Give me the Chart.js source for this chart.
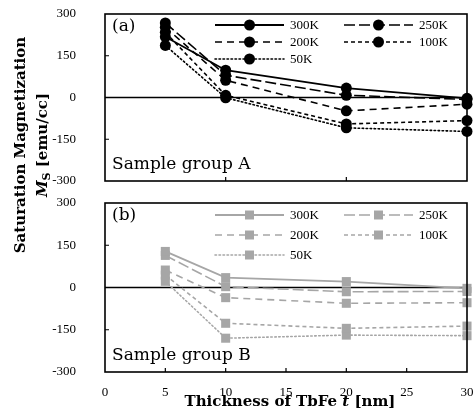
<!DOCTYPE html>
<html>
<head>
<meta charset="utf-8">
<script src="https://cdn.jsdelivr.net/npm/chart.js@4.4.1/dist/chart.umd.min.js"></script>
<style>
  html, body { margin: 0; padding: 0; background: #fff; }
  #wrap { position: relative; width: 476px; height: 418px; overflow: hidden; font-family: 'DejaVu Serif', serif; }
  #boxA { position: absolute; left: 0; top: 0; width: 476px; height: 192px; }
  #boxB { position: absolute; left: 0; top: 192px; width: 476px; height: 226px; }
  #yTitle {
    position: absolute; left: -119px; top: 123px; width: 300px; height: 44px;
    transform: rotate(-90deg); transform-origin: 50% 50%;
    text-align: center; line-height: 22px; font-weight: bold; font-size: 15px; color: #000;
    white-space: nowrap;
  }
  #yTitle sub { font-size: 11px; vertical-align: -3px; line-height: 0; font-style: normal; }
  #xTitle {
    position: absolute; left: 90px; top: 392px; width: 400px; text-align: center;
    font-weight: bold; font-size: 15px; line-height: 18px; color: #000; white-space: nowrap;
  }
</style>
</head>
<body>
<div id="wrap">
  <div id="boxA"><canvas id="chartA"></canvas></div>
  <div id="boxB"><canvas id="chartB"></canvas></div>
  <div id="yTitle">Saturation Magnetization<br><i>M</i><sub>S</sub> [emu/cc]</div>
  <div id="xTitle">Thickness of TbFe <i>t</i> [nm]</div>
</div>
<script>
// thickness values (nm)
const thickness = [5, 10, 20, 30];
const tempLabels = ['300K', '250K', '200K', '100K', '50K'];
const yTicks = [-300, -150, 0, 150, 300];

// sample group A, emu/cc
const groupA300K = [218, 98, 34, -3];
const groupA250K = [268, 80, 8, -7];
const groupA200K = [252, 62, -48, -24];
const groupA100K = [234, 8, -95, -83];
const groupA50K = [187, -1, -109, -122];

// sample group B, emu/cc
const groupB300K = [128, 35, 21, -3];
const groupB250K = [114, 3, -15, -14];
const groupB200K = [62, -36, -56, -54];
const groupB100K = [44, -127, -145, -137];
const groupB50K = [22, -180, -169, -171];

// line dash per temperature
const dashes = [[], [11, 4], [7, 5], [4, 3], [1.5, 2.5]];

// where each legend entry goes: [column, row]
const legendSlots = [[0, 0], [1, 0], [0, 1], [1, 1], [0, 2]];

const framePlugin = {
  id: 'frame',
  beforeDatasetsDraw(chart) {
    const { ctx, chartArea: a, scales } = chart;
    const y0 = scales.y.getPixelForValue(0);
    ctx.save();
    ctx.strokeStyle = '#000';
    ctx.lineWidth = 1.3;
    ctx.beginPath();
    ctx.moveTo(a.left, y0);
    ctx.lineTo(a.right, y0);
    ctx.stroke();
    ctx.restore();
  },
  afterDatasetsDraw(chart, args, opts) {
    const { ctx, chartArea: a, scales } = chart;
    ctx.save();
    ctx.strokeStyle = '#000';
    ctx.lineWidth = 1.6;
    ctx.strokeRect(a.left, a.top, a.right - a.left, a.bottom - a.top);

    // inward ticks
    ctx.lineWidth = 1.2;
    ctx.beginPath();
    scales.y.ticks.forEach(t => {
      if (t.value === 300 || t.value === -300 || t.value === 0) return;
      const py = scales.y.getPixelForValue(t.value);
      ctx.moveTo(a.left, py);
      ctx.lineTo(a.left + 4, py);
    });
    opts.xTickMarks.forEach(v => {
      const px = scales.x.getPixelForValue(v);
      ctx.moveTo(px, a.bottom);
      ctx.lineTo(px, a.bottom - 4);
    });
    ctx.stroke();

    // panel texts
    ctx.fillStyle = '#000';
    ctx.font = '17px "DejaVu Serif", serif';
    ctx.textBaseline = 'middle';
    ctx.textAlign = 'left';
    ctx.fillText(opts.tag, a.left + 7, a.top + 13);
    ctx.fillText(opts.group, a.left + 7, a.bottom - 16);

    // legend
    const rowGap = opts.rowGap;
    chart.data.datasets.forEach((ds, i) => {
      const [col, row] = legendSlots[i];
      const x1 = a.left + (col === 0 ? 110 : 239);
      const x2 = x1 + 69;
      const mx = (x1 + x2) / 2;
      const ly = a.top + opts.legendTop + row * rowGap;
      ctx.strokeStyle = ds.borderColor;
      ctx.lineWidth = ds.borderWidth;
      ctx.setLineDash(ds.borderDash);
      ctx.lineCap = ds.borderCapStyle;
      ctx.beginPath();
      ctx.moveTo(x1, ly);
      ctx.lineTo(x2, ly);
      ctx.stroke();
      ctx.setLineDash([]);
      ctx.fillStyle = ds.pointBackgroundColor;
      ctx.beginPath();
      if (ds.pointStyle === 'rect') {
        ctx.rect(mx - 4.5, ly - 4.5, 9, 9);
      } else {
        ctx.arc(mx, ly, 5.5, 0, Math.PI * 2);
      }
      ctx.fill();
      ctx.fillStyle = '#000';
      ctx.font = '13px "Liberation Serif", serif';
      ctx.fillText(ds.label, x2 + 6, ly + 1);
    });
    ctx.restore();
  }
};

function makeDatasets(series, color, pointStyle, radius) {
  return series.map((values, i) => ({
    label: tempLabels[i],
    data: values.map((v, k) => ({ x: thickness[k], y: v })),
    borderColor: color,
    borderWidth: i === 0 ? 1.8 : 1.6,
    borderDash: dashes[i],
    borderCapStyle: i === 4 ? 'round' : 'butt',
    pointStyle: pointStyle,
    pointRadius: radius,
    pointBackgroundColor: color,
    pointBorderColor: color,
    pointBorderWidth: 0,
    fill: false,
    tension: 0,
    clip: false,
  }));
}

function makePanel(canvasId, datasets, cfg) {
  const canvas = document.getElementById(canvasId);
  return new Chart(canvas.getContext('2d'), {
    type: 'line',
    data: { datasets: datasets },
    options: {
      responsive: true,
      maintainAspectRatio: false,
      animation: false,
      events: [],
      layout: { autoPadding: false, padding: { top: cfg.padTop, right: 9, left: 0, bottom: 0 } },
      plugins: {
        legend: { display: false },
        tooltip: { enabled: false },
        frame: cfg.frame,
      },
      scales: {
        x: {
          type: 'linear',
          min: 0,
          max: 30,
          ticks: {
            display: cfg.showX,
            stepSize: 5,
            autoSkip: false,
            maxRotation: 0,
            padding: 5,
            color: '#000',
            font: { family: 'Liberation Serif', size: 13 },
          },
          grid: { display: false },
          border: { display: false },
          afterFit: s => { s.height = cfg.xHeight; s.paddingLeft = 0; s.paddingRight = 0; },
        },
        y: {
          min: -300,
          max: 300,
          afterBuildTicks: s => { s.ticks = yTicks.map(v => ({ value: v })); },
          ticks: {
            padding: 21,
            color: '#000',
            font: { family: 'Liberation Serif', size: 13 },
            callback: v => String(v),
          },
          grid: { display: false },
          border: { display: false },
          // tick padding would otherwise push the plot area down
          afterFit: s => { s.width = 105; s.paddingTop = 0; s.paddingBottom = 0; },
        },
      },
    },
    plugins: [framePlugin],
  });
}

makePanel('chartA',
  makeDatasets([groupA300K, groupA250K, groupA200K, groupA100K, groupA50K], '#000', 'circle', 5.5),
  { padTop: 14, xHeight: 11, showX: false,
    frame: { tag: '(a)', group: 'Sample group A', xTickMarks: [10, 20], legendTop: 11, rowGap: 17 } });

makePanel('chartB',
  makeDatasets([groupB300K, groupB250K, groupB200K, groupB100K, groupB50K], '#a6a6a6', 'rect', 6.4),
  { padTop: 11, xHeight: 46, showX: true,
    frame: { tag: '(b)', group: 'Sample group B', xTickMarks: [5, 10, 15, 20, 25], legendTop: 12, rowGap: 20 } });
</script>
</body>
</html>
